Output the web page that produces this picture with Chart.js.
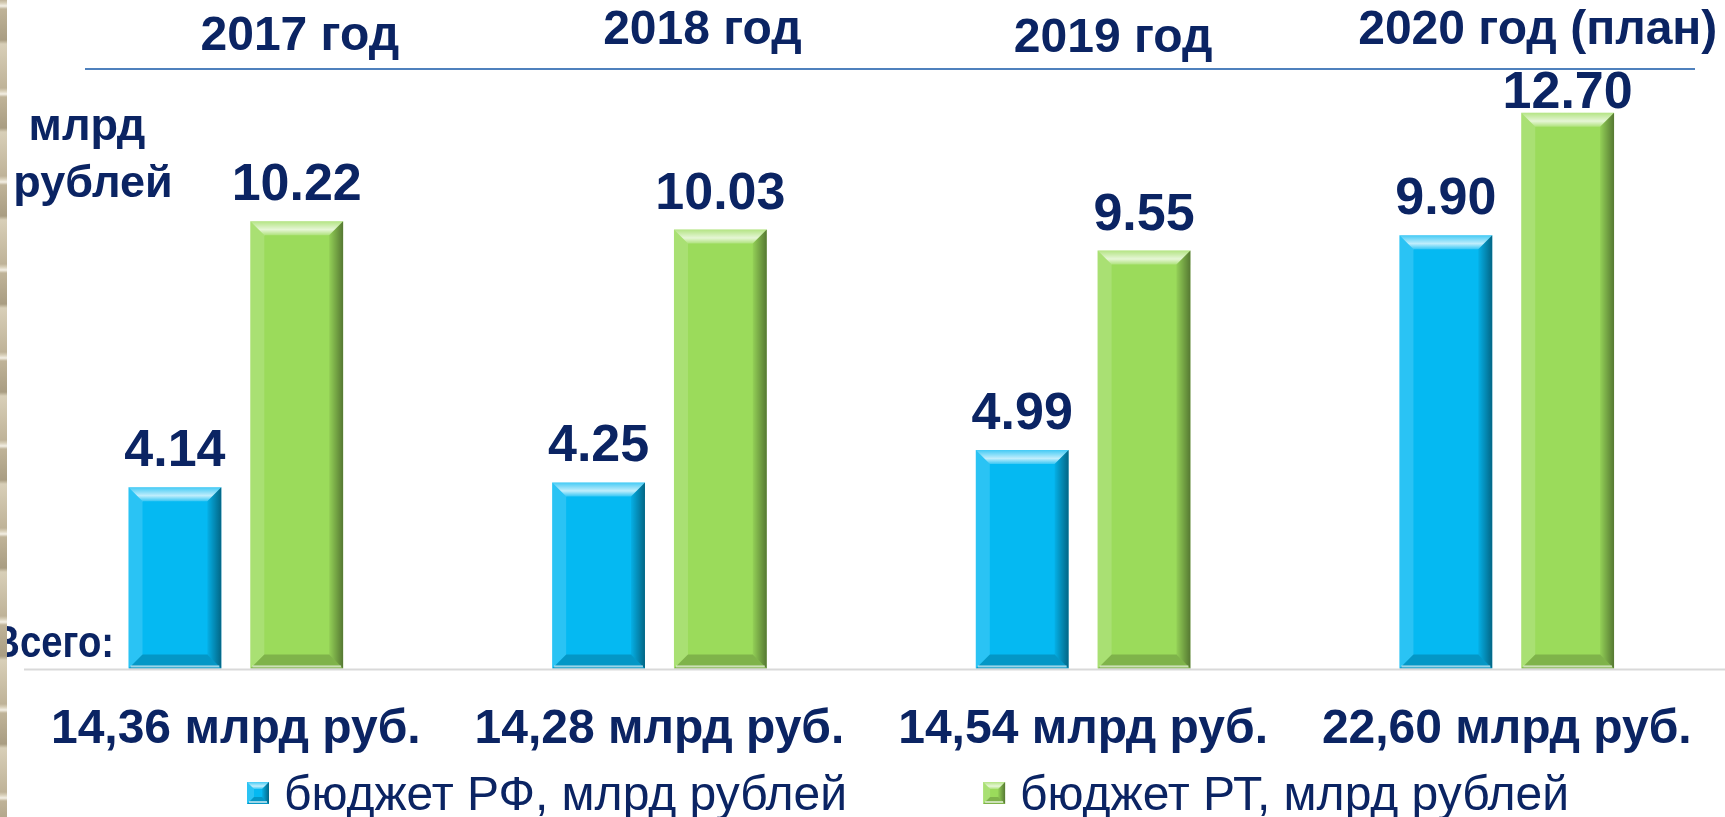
<!DOCTYPE html>
<html>
<head>
<meta charset="utf-8">
<script src="https://cdn.jsdelivr.net/npm/chart.js@4"></script>
<style>
    html, body { margin: 0; padding: 0; background: #fff; }
    #wrap { position: relative; width: 1725px; height: 817px; overflow: hidden; }
    #ornament {
        position: absolute; left: 0; top: 0; width: 7px; height: 817px;
        background: repeating-linear-gradient(180deg, #bfb398 0px, #d8cfb8 3px, #f3efe4 6px, #bfb398 9px, #a99d82 40px, #d8cfb8 44px, #bfb398 88px);
    }
</style>
</head>
<body>
<div id="wrap">
    <canvas id="chart" width="1725" height="817"></canvas>
    <div id="ornament"></div>
</div>
<script>
// Budget data, bln rubles
const years = ['2017 год', '2018 год', '2019 год', '2020 год (план)'];
const totals = ['14,36 млрд руб.', '14,28 млрд руб.', '14,54 млрд руб.', '22,60 млрд руб.'];
const rfBudget = [4.14, 4.25, 4.99, 9.90];
const rtBudget = [10.22, 10.03, 9.55, 12.70];
const seriesNames = ['бюджет РФ, млрд рублей', 'бюджет РТ, млрд рублей'];

const NAVY = '#0b2463';
const FONT = '"Liberation Sans", Arial, sans-serif';

// year headers: offset from category centre and baseline
const yearOffsets = [64, 43, 30, 31];
const yearBaselines = [50, 44, 52, 44];

function bevelRect(ctx, left, top, right, bottom, b) {
    // top facet
    let g = ctx.createLinearGradient(0, top, 0, top + b);
    g.addColorStop(0, 'rgba(255,255,255,0.25)');
    g.addColorStop(0.6, 'rgba(255,255,255,0.75)');
    g.addColorStop(1, 'rgba(255,255,255,0.2)');
    ctx.fillStyle = g;
    ctx.beginPath();
    ctx.moveTo(left, top); ctx.lineTo(right, top);
    ctx.lineTo(right - b, top + b); ctx.lineTo(left + b, top + b);
    ctx.closePath(); ctx.fill();
    // left facet
    ctx.fillStyle = 'rgba(255,255,255,0.15)';
    ctx.beginPath();
    ctx.moveTo(left, top); ctx.lineTo(left + b, top + b);
    ctx.lineTo(left + b, bottom - b); ctx.lineTo(left, bottom);
    ctx.closePath(); ctx.fill();
    // right facet
    g = ctx.createLinearGradient(right - b, 0, right, 0);
    g.addColorStop(0, 'rgba(0,0,0,0.05)');
    g.addColorStop(1, 'rgba(0,0,0,0.45)');
    ctx.fillStyle = g;
    ctx.beginPath();
    ctx.moveTo(right, top); ctx.lineTo(right, bottom);
    ctx.lineTo(right - b, bottom - b); ctx.lineTo(right - b, top + b);
    ctx.closePath(); ctx.fill();
    // bottom facet
    ctx.fillStyle = 'rgba(0,0,0,0.18)';
    ctx.beginPath();
    ctx.moveTo(left, bottom); ctx.lineTo(right, bottom);
    ctx.lineTo(right - b, bottom - b); ctx.lineTo(left + b, bottom - b);
    ctx.closePath(); ctx.fill();
    ctx.fillStyle = 'rgba(255,255,255,0.6)';
    ctx.fillRect(left + 2, bottom - 3, right - left - 4, 2);
}

const decorPlugin = {
    id: 'decor',
    beforeDatasetsDraw(chart) {
        const ctx = chart.ctx;
        const area = chart.chartArea;
        ctx.save();
        // top rule
        ctx.strokeStyle = '#4f81bd';
        ctx.lineWidth = 2;
        ctx.beginPath();
        ctx.moveTo(85, area.top);
        ctx.lineTo(1695, area.top);
        ctx.stroke();
        // base line
        ctx.strokeStyle = '#d9d9d9';
        ctx.beginPath();
        ctx.moveTo(area.left, area.bottom + 1);
        ctx.lineTo(chart.width, area.bottom + 1);
        ctx.stroke();
        ctx.restore();
    },
    afterDatasetsDraw(chart) {
        const ctx = chart.ctx;
        const area = chart.chartArea;
        const xScale = chart.scales.x;
        ctx.save();

        // bevel + value labels
        chart.data.datasets.forEach((ds, di) => {
            chart.getDatasetMeta(di).data.forEach((bar, i) => {
                const p = bar.getProps(['x', 'y', 'base', 'width'], true);
                bevelRect(ctx, p.x - p.width / 2, p.y, p.x + p.width / 2, p.base, 14);
                ctx.fillStyle = NAVY;
                ctx.font = 'bold 52px ' + FONT;
                ctx.textAlign = 'center';
                ctx.textBaseline = 'alphabetic';
                const yText = Math.max(p.y - 21, area.top + 39);
                ctx.fillText(ds.data[i].toFixed(2), p.x, yText);
            });
        });

        // year headers
        ctx.fillStyle = NAVY;
        ctx.font = 'bold 48px ' + FONT;
        ctx.textAlign = 'center';
        years.forEach((y, i) => {
            ctx.fillText(y, xScale.getPixelForValue(i) + yearOffsets[i], yearBaselines[i]);
        });

        // unit label
        ctx.font = 'bold 45px ' + FONT;
        ctx.fillText('млрд', 87, 140);
        ctx.fillText('рублей', 93, 197);

        // total prefix, slightly condensed
        ctx.save();
        ctx.translate(114, 657);
        ctx.scale(0.85, 1);
        ctx.textAlign = 'right';
        ctx.fillText('Всего:', 0, 0);
        ctx.restore();

        // legend
        ctx.font = '48px ' + FONT;
        ctx.textAlign = 'left';
        let x = 247;
        chart.data.datasets.forEach((ds) => {
            ctx.fillStyle = ds.backgroundColor;
            ctx.fillRect(x, 782, 22, 22);
            bevelRect(ctx, x, 782, x + 22, 804, 7);
            ctx.fillStyle = NAVY;
            ctx.fillText(ds.label, x + 37, 810);
            x += 37 + ctx.measureText(ds.label).width + 136;
        });
        ctx.restore();
    }
};

new Chart(document.getElementById('chart'), {
    type: 'bar',
    data: {
        labels: totals,
        datasets: [
            {
                label: seriesNames[0],
                data: rfBudget,
                backgroundColor: '#05b9f2',
                borderWidth: 0,
                categoryPercentage: 0.575,
                barPercentage: 0.762
            },
            {
                label: seriesNames[1],
                data: rtBudget,
                backgroundColor: '#9bdb5b',
                borderWidth: 0,
                categoryPercentage: 0.575,
                barPercentage: 0.762
            }
        ]
    },
    options: {
        responsive: false,
        animation: false,
        layout: {
            padding: { left: 24, right: 3, top: 69, bottom: 25 }
        },
        plugins: {
            legend: { display: false },
            tooltip: { enabled: false }
        },
        scales: {
            y: {
                display: false,
                min: 0,
                max: 13.7
            },
            x: {
                grid: { display: false, drawTicks: false },
                border: { display: false },
                ticks: {
                    padding: 33,
                    color: NAVY,
                    font: { family: FONT, size: 48, weight: 'bold' },
                    maxRotation: 0,
                    autoSkip: false
                }
            }
        }
    },
    plugins: [decorPlugin]
});
</script>
</body>
</html>
